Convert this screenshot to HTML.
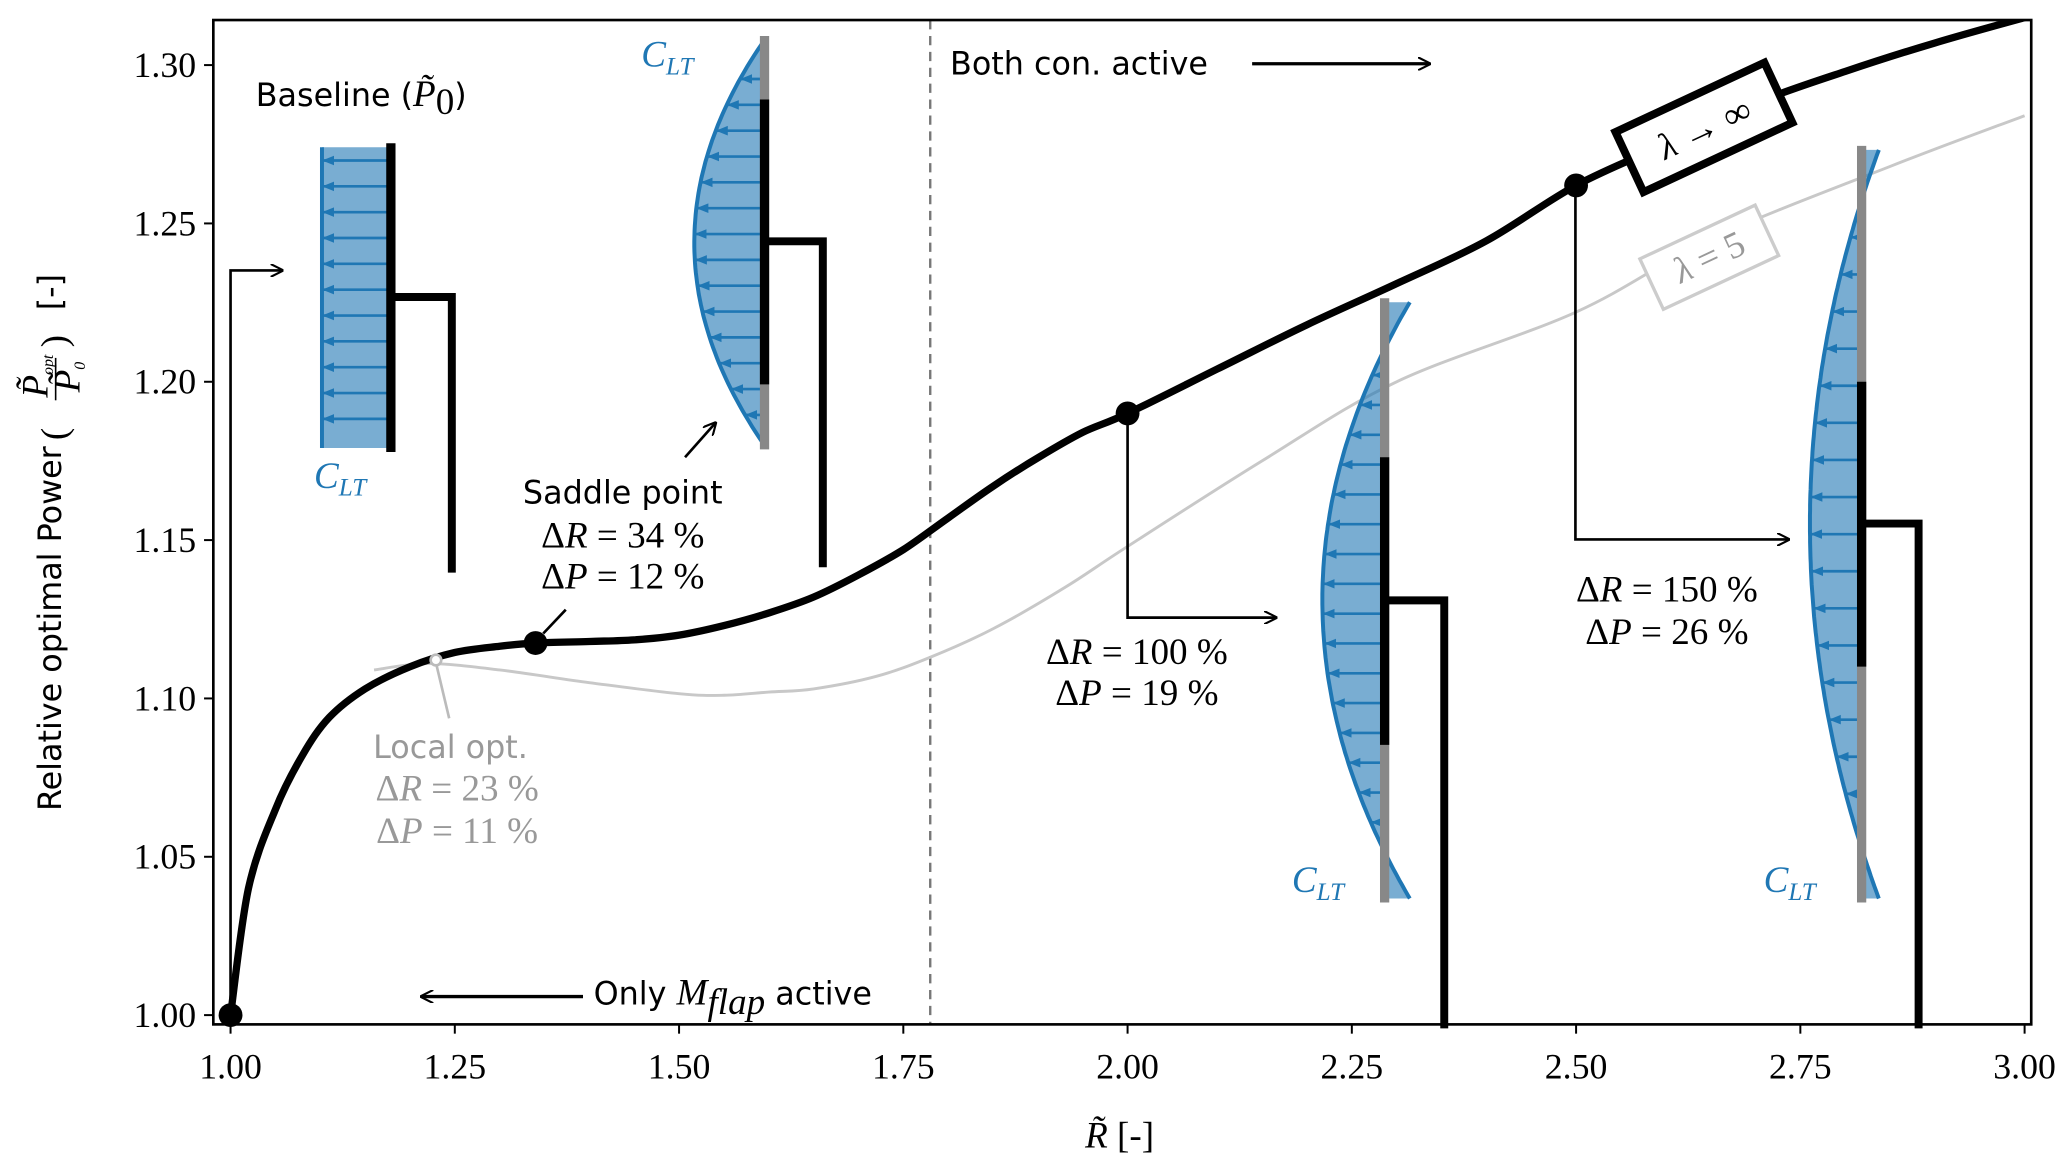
<!DOCTYPE html>
<html><head><meta charset="utf-8"><style>
html,body{margin:0;padding:0;background:#fff;}
svg{display:block;}
.tick{font-family:"Liberation Serif",serif;font-size:27px;fill:#000;}
.sans{font-family:"DejaVu Sans","Liberation Sans",sans-serif;font-size:24px;}
.math{font-family:"Liberation Serif",serif;font-size:28px;}
</style></head><body>
<svg id="chart" width="2067" height="1165" viewBox="0 0 1560 879" xmlns="http://www.w3.org/2000/svg">
<defs>
<marker id="ah" viewBox="0 0 10 10" refX="9" refY="5" markerWidth="10" markerHeight="10" markerUnits="userSpaceOnUse" orient="auto"><path d="M0,0 L10,5 L0,10" fill="none" stroke="#000" stroke-width="1.6"/></marker>
<marker id="ab" viewBox="0 0 10 10" refX="9" refY="5" markerWidth="9" markerHeight="9" markerUnits="userSpaceOnUse" orient="auto"><path d="M0,1 L10,5 L0,9 Z" fill="#1f77b4"/></marker>
<clipPath id="plotclip"><rect x="161" y="15" width="1372" height="758"/></clipPath>
</defs>
<g id="series" clip-path="url(#plotclip)"></g>
<g id="insets"></g>
<g id="annot">
  <text class="sans" x="193" y="80">Baseline (<tspan class="math" font-style="italic">P̃</tspan><tspan class="math" font-size="20" dy="6">0</tspan><tspan dy="-6">)</tspan></text>
  <path d="M174,766 L174,204 L213,204" fill="none" stroke="#000" stroke-width="2" marker-end="url(#ah)"/>
  <text class="sans" x="470" y="380" text-anchor="middle">Saddle point</text>
  <text class="math" x="470" y="413" text-anchor="middle">Δ<tspan font-style="italic">R</tspan> = 34 %</text>
  <text class="math" x="470" y="444" text-anchor="middle">Δ<tspan font-style="italic">P</tspan> = 12 %</text>
  <line x1="410" y1="478" x2="427" y2="460" stroke="#000" stroke-width="2"/>
  <line x1="517" y1="345" x2="540" y2="319" stroke="#000" stroke-width="2" marker-end="url(#ah)"/>
  <text class="sans" x="340" y="572" text-anchor="middle" fill="#999">Local opt.</text>
  <text class="math" x="345" y="604" text-anchor="middle" fill="#999">Δ<tspan font-style="italic">R</tspan> = 23 %</text>
  <text class="math" x="345" y="636" text-anchor="middle" fill="#999">Δ<tspan font-style="italic">P</tspan> = 11 %</text>
  <line x1="329" y1="500" x2="339" y2="542" stroke="#bbb" stroke-width="2"/>
  <circle cx="329" cy="498" r="4" fill="#fff" stroke="#bbb" stroke-width="2"/>
  <text class="math" x="858" y="501" text-anchor="middle">Δ<tspan font-style="italic">R</tspan> = 100 %</text>
  <text class="math" x="858" y="532" text-anchor="middle">Δ<tspan font-style="italic">P</tspan> = 19 %</text>
  <path d="M851,312 L851,466 L963,466" fill="none" stroke="#000" stroke-width="2" marker-end="url(#ah)"/>
  <text class="math" x="1258" y="454" text-anchor="middle">Δ<tspan font-style="italic">R</tspan> = 150 %</text>
  <text class="math" x="1258" y="486" text-anchor="middle">Δ<tspan font-style="italic">P</tspan> = 26 %</text>
  <path d="M1189,139 L1189,407 L1350,407" fill="none" stroke="#000" stroke-width="2" marker-end="url(#ah)"/>
  <text class="sans" x="717" y="56">Both con. active</text>
  <line x1="945" y1="48" x2="1079" y2="48" stroke="#000" stroke-width="2.5" marker-end="url(#ah)"/>
  <text class="sans" x="448" y="758">Only <tspan class="math" font-style="italic">M</tspan><tspan class="math" font-style="italic" font-size="20" dy="7">flap</tspan><tspan dy="-7"> active</tspan></text>
  <line x1="440" y1="752" x2="318" y2="752" stroke="#000" stroke-width="2.5" marker-end="url(#ah)"/>
  <g transform="translate(1286,96) rotate(-25)">
    <rect x="-62" y="-25" width="124" height="50" fill="#fff" stroke="#000" stroke-width="6"/>
    <text class="math" x="0" y="10" text-anchor="middle" font-size="32" font-style="italic">λ → ∞</text>
  </g>
  <g transform="translate(1290,194) rotate(-25)">
    <rect x="-48" y="-21" width="96" height="42" fill="#fff" stroke="#ccc" stroke-width="2.5"/>
    <text class="math" x="0" y="9" text-anchor="middle" font-size="28" fill="#999"><tspan font-style="italic">λ</tspan> = 5</text>
  </g>
  <text class="math" x="845" y="866" text-anchor="middle"><tspan font-style="italic">R̃</tspan> [-]</text>
  <g transform="translate(46,420) rotate(-90)">
    <text class="sans" x="-192" y="0" text-anchor="start">Relative optimal Power</text>
    <text class="math" x="88" y="4" font-size="46" font-weight="100">(</text>
    <text class="math" x="120" y="-10" font-size="17" font-style="italic">P̃<tspan font-size="12" dy="4">opt</tspan></text>
    <line x1="118" y1="-4" x2="150" y2="-4" stroke="#000" stroke-width="1.2"/>
    <text class="math" x="124" y="14" font-size="17" font-style="italic">P̃<tspan font-size="12" dy="4">0</tspan></text>
    <text class="math" x="158" y="4" font-size="46" font-weight="100">)</text>
    <text class="sans" x="186" y="0">[-]</text>
  </g>
</g>
<g id="dots"></g>
<rect x="161" y="15" width="1372" height="758" fill="none" stroke="#000" stroke-width="2"/>
<g id="axes"></g>
</svg>
<script>
const xTicks = [1.00, 1.25, 1.50, 1.75, 2.00, 2.25, 2.50, 2.75, 3.00];
const xTickLabels = ["1.00","1.25","1.50","1.75","2.00","2.25","2.50","2.75","3.00"];
const yTicks = [1.00, 1.05, 1.10, 1.15, 1.20, 1.25, 1.30];
const yTickLabels = ["1.00","1.05","1.10","1.15","1.20","1.25","1.30"];
const rInf = [1.00,1.02,1.05,1.08,1.11,1.15,1.20,1.25,1.30,1.34,1.40,1.45,1.50,1.55,1.60,1.65,1.70,1.75,1.80,1.85,1.90,1.95,2.00,2.10,2.20,2.30,2.40,2.50,2.60,2.70,2.80,2.90,3.00];
const pInf = [1.000,1.040,1.065,1.082,1.094,1.103,1.110,1.1145,1.1165,1.1175,1.118,1.1185,1.120,1.123,1.127,1.132,1.139,1.147,1.157,1.167,1.176,1.184,1.190,1.204,1.218,1.231,1.2445,1.262,1.275,1.288,1.298,1.307,1.315];
const r5 = [1.16,1.22,1.30,1.40,1.50,1.55,1.60,1.65,1.72,1.78,1.85,1.93,2.00,2.15,2.30,2.50,2.65,2.85,3.00];
const p5 = [1.109,1.111,1.109,1.105,1.1015,1.101,1.102,1.103,1.107,1.113,1.122,1.135,1.148,1.175,1.200,1.222,1.245,1.268,1.284];
const markR = [1.00, 1.34, 2.00, 2.50];
const markP = [1.000, 1.1175, 1.190, 1.262];
const splitR = 1.78;

const NS = "http://www.w3.org/2000/svg";
function X(r){ return 174 + (r - 1) * 677; }
function Y(p){ return 766 - (p - 1) * 2390; }
function mk(tag, attrs, parent){ const e = document.createElementNS(NS, tag); for (const k in attrs) e.setAttribute(k, attrs[k]); parent.appendChild(e); return e; }

const axes = document.getElementById('axes');
xTicks.forEach((t, i) => {
  const l = mk('line', {x1: X(t), x2: X(t), y1: 773, y2: 780, stroke: '#000', 'stroke-width': 1.5}, axes);
  
  
  const tx = mk('text', {x: X(t), y: 814, 'text-anchor': 'middle', class: 'tick'}, axes);
  tx.textContent = xTickLabels[i];
  
  
});
yTicks.forEach((t, i) => {
  const l = mk('line', {x1: 154, x2: 161, y1: Y(t), y2: Y(t), stroke: '#000', 'stroke-width': 1.5}, axes);
  
  
  const tx = mk('text', {x: 148, y: Y(t) + 9, 'text-anchor': 'end', class: 'tick'}, axes);
  tx.textContent = yTickLabels[i];
  
  
});

const series = document.getElementById('series');
const dl = mk('line', {x1: X(splitR), x2: X(splitR), y1: 15, y2: 773, stroke: '#777', 'stroke-width': 1.8, 'stroke-dasharray': '7,5'}, series);


function smooth(rs, ps){
  const P = rs.map((r, i) => [X(r), Y(ps[i])]);
  let d = 'M' + P[0][0].toFixed(1) + ',' + P[0][1].toFixed(1);
  for (let i = 0; i < P.length - 1; i++) {
    const p0 = P[Math.max(0, i - 1)], p1 = P[i], p2 = P[i + 1], p3 = P[Math.min(P.length - 1, i + 2)];
    const c1 = [p1[0] + (p2[0] - p0[0]) / 6, p1[1] + (p2[1] - p0[1]) / 6];
    const c2 = [p2[0] - (p3[0] - p1[0]) / 6, p2[1] - (p3[1] - p1[1]) / 6];
    d += 'C' + c1.map(v => v.toFixed(1)).join(',') + ' ' + c2.map(v => v.toFixed(1)).join(',') + ' ' + p2.map(v => v.toFixed(1)).join(',');
  }
  return d;
}
const l5 = mk('path', {d: smooth(r5, p5), fill: 'none', stroke: '#c8c8c8', 'stroke-width': 2.2}, series);


const lInf = mk('path', {d: smooth(rInf, pInf), fill: 'none', stroke: '#000', 'stroke-width': 5.5, 'stroke-linejoin': 'round'}, series);



const dots = document.getElementById('dots');
markR.forEach((r, i) => {
  const c = mk('circle', {cx: X(r), cy: Y(markP[i]), r: 9, fill: '#000'}, dots);
  
  
});

const insets = document.getElementById('insets');
function inset(o){
  const g = mk('g', {}, insets);
  
  
  const ym = (o.y0 + o.y1) / 2, h = (o.y1 - o.y0) / 2;
  const cx = y => o.flat ? o.xl : o.xc + (o.xe - o.xc) * Math.pow((y - ym) / h, 2);
  let d = '';
  for (let y = o.y0; y <= o.y1; y += 4) d += (d ? 'L' : 'M') + cx(y).toFixed(1) + ',' + y;
  d += 'L' + cx(o.y1).toFixed(1) + ',' + o.y1;
  mk('path', {d: d + 'L' + o.bx + ',' + o.y1 + 'L' + o.bx + ',' + o.y0 + 'Z', fill: 'rgba(31,119,180,0.6)', stroke: 'none'}, g);
  for (let y = o.y0 + 10; y < o.y1 - 5; y += o.step) {
    const x = cx(y);
    if (x < o.bx - 8) mk('line', {x1: o.bx, y1: y, x2: x + 1, y2: y, stroke: '#1f77b4', 'stroke-width': 2, 'marker-end': 'url(#ab)'}, g);
  }
  mk('path', {d: d, fill: 'none', stroke: '#1f77b4', 'stroke-width': 3}, g);
  if (o.g1) {
    mk('line', {x1: o.bx, x2: o.bx, y1: o.y0 - 3, y2: o.y1 + 3, stroke: '#888', 'stroke-width': 7}, g);
    mk('line', {x1: o.bx, x2: o.bx, y1: o.g1, y2: o.g2, stroke: '#000', 'stroke-width': 7}, g);
  } else {
    mk('line', {x1: o.bx, x2: o.bx, y1: o.y0 - 3, y2: o.y1 + 3, stroke: '#000', 'stroke-width': 7}, g);
  }
  mk('path', {d: 'M' + o.bx + ',' + o.hy + 'L' + o.tx + ',' + o.hy + 'L' + o.tx + ',' + o.ty, fill: 'none', stroke: '#000', 'stroke-width': 6}, g);
  const t = mk('text', {x: o.lx, y: o.ly, class: 'math', fill: '#1f77b4', 'font-style': 'italic'}, g);
  t.innerHTML = 'C<tspan font-size="19" dy="6">LT</tspan>';
}
inset({name: 'baseline-inset', y0: 111, y1: 338, xl: 243, flat: true, bx: 295, step: 19.5, hy: 224, tx: 341, ty: 432, lx: 237, ly: 368});
inset({name: 'saddle-inset', y0: 30, y1: 336, xc: 524, xe: 577, bx: 577, step: 19.5, g1: 75, g2: 290, hy: 182, tx: 621, ty: 428, lx: 484, ly: 50});
inset({name: 'r100-inset', y0: 228, y1: 678, xc: 998, xe: 1064, bx: 1045, step: 22.5, g1: 345, g2: 562, hy: 453, tx: 1090, ty: 776, lx: 975, ly: 673});
inset({name: 'r150-inset', y0: 113, y1: 678, xc: 1366, xe: 1418, bx: 1405, step: 28, g1: 288, g2: 503, hy: 395, tx: 1448, ty: 776, lx: 1331, ly: 673});
</script>
</body></html>
